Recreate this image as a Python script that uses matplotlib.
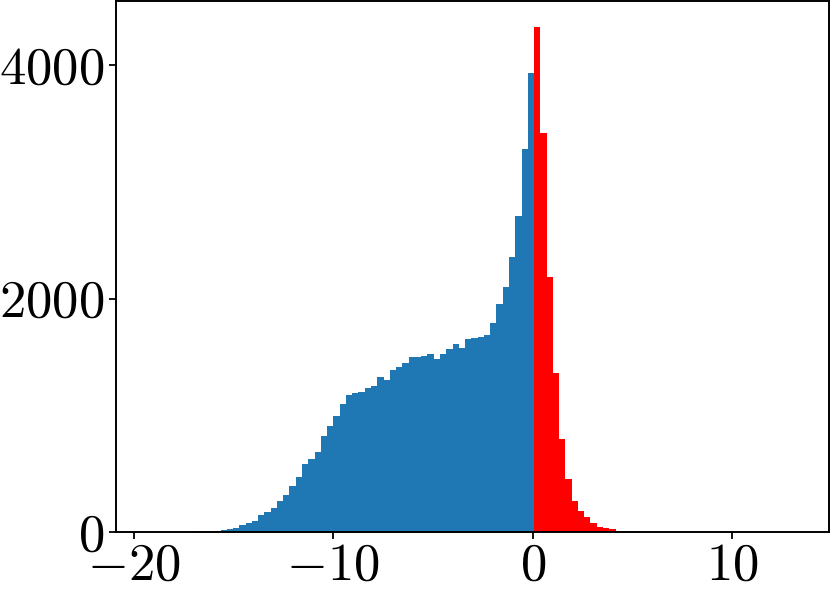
import numpy as np
import matplotlib
matplotlib.use("Agg")
import matplotlib.pyplot as plt
from matplotlib.ticker import FuncFormatter, FixedLocator

# ---- data (bin counts, left to right) ----
bin_width = 0.3143          # width of one histogram bin (x units)
zero_edge = 0.07            # first bin edge at/after zero
neg_counts = [1, 3, 10, 12, 7, 12, 17, 27, 37, 58, 80, 92, 142, 168, 205, 266,
              318, 398, 472, 581, 628, 687, 826, 908, 994, 1100, 1171, 1188,
              1200, 1233, 1253, 1328, 1306, 1390, 1410, 1445, 1502, 1499,
              1505, 1525, 1484, 1527, 1565, 1613, 1579, 1650, 1664, 1670,
              1687, 1788, 1955, 2096, 2353, 2709, 3283, 3934]
pos_counts = [4330, 3415, 2187, 1359, 794, 451, 265, 180, 131, 75, 43, 32,
              28, 11, 11, 6, 5, 3, 2]
x_ticks = [-20, -10, 0, 10]
y_ticks = [0, 2000, 4000]

counts = np.array(neg_counts + pos_counts, dtype=float)
n_neg = len(neg_counts)
edges = zero_edge + (np.arange(len(counts) + 1) - n_neg) * bin_width
centers = 0.5 * (edges[:-1] + edges[1:])

plt.rcParams['mathtext.fontset'] = 'cm'
plt.rcParams['font.family'] = 'serif'
plt.rcParams['font.serif'] = ['cmr10', 'DejaVu Serif']

fig = plt.figure(figsize=(8.31, 5.97), dpi=100)
ax = fig.add_axes([0.1392, 0.1089, 0.998 - 0.1392, 0.9978 - 0.1089])

n, bins, patches = ax.hist(centers, bins=edges, weights=counts, color='#1f77b4')
for left, p in zip(bins[:-1], patches):
    if left >= 0:
        p.set_facecolor('red')

ax.set_xlim(-20.90, 14.87)
ax.set_ylim(0, counts.max() * 1.05)

ax.xaxis.set_major_locator(FixedLocator(x_ticks))
ax.yaxis.set_major_locator(FixedLocator(y_ticks))
fmt = FuncFormatter(lambda v, pos: r'$%d$' % int(round(v)))
ax.xaxis.set_major_formatter(fmt)
ax.yaxis.set_major_formatter(fmt)
ax.tick_params(labelsize=38, width=1.3, length=5, pad=3)
for s in ax.spines.values():
    s.set_linewidth(1.4)

fig.savefig('out.png', dpi=100)
